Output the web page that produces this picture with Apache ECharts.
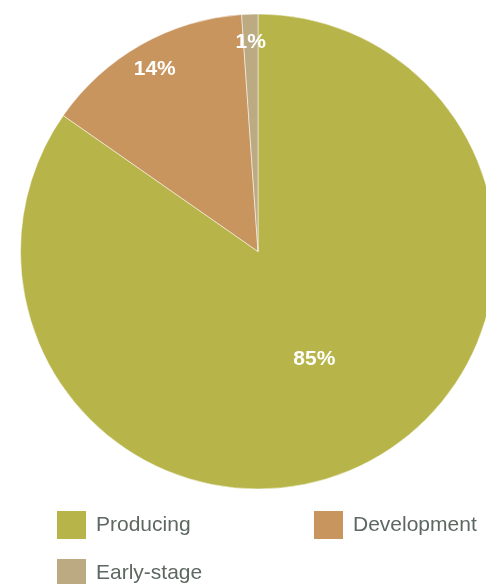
<!DOCTYPE html>
<html>
<head>
<meta charset="utf-8">
<script src="https://cdn.jsdelivr.net/npm/echarts@6/dist/echarts.min.js"></script>
<style>html,body{margin:0;padding:0;background:#fff}#c{width:486px;height:584px}</style>
</head>
<body>
<div id="c"></div>
<script>
const categories = ['Producing', 'Development', 'Early-stage'];
const values = [84.7, 14.2, 1.1];
const colors = ['#b7b54a', '#c8955f', '#bcab82'];
// which slices get their label at mid-radius (inner) vs near the rim (outer)
const innerLabel = ['Producing'];

const FONT = '"Liberation Sans", Arial, sans-serif';
const cx = 258, cy = 251.5, R = 237.5;
const total = values.reduce((a, b) => a + b, 0);
const fmt = p => Math.round(p.value / total * 100) + '%';
const labelStyle = {
  position: 'inside', color: '#fff', fontSize: 21, fontWeight: 'bold',
  fontFamily: FONT, formatter: fmt
};

const data0 = categories.map((c, i) => ({
  name: c, value: values[i], itemStyle: { color: colors[i] },
  label: { show: innerLabel.includes(c) }
}));
const data1 = categories.map((c, i) => ({
  name: c, value: values[i],
  label: { show: !innerLabel.includes(c) }
}));

function legend(name, left, top) {
  return {
    data: [name], left: left, top: top, padding: 0, orient: 'horizontal',
    itemWidth: 31, itemHeight: 30, icon: 'rect', selectedMode: false,
    textStyle: { color: '#5d6862', fontSize: 21, fontFamily: FONT, padding: [0, 0, 0, 4] }
  };
}

const chart = echarts.init(document.getElementById('c'), null, { renderer: 'canvas' });
chart.setOption({
  animation: false,
  legend: [
    legend(categories[0], 55, 509),
    legend(categories[1], 312, 509),
    legend(categories[2], 55, 557)
  ],
  series: [
    {
      type: 'pie', center: [cx, cy], radius: [0, R], startAngle: 90, clockwise: true,
      silent: true, label: labelStyle, labelLine: { show: false },
      itemStyle: { borderColor: '#fff', borderWidth: 0.5 },
      emphasis: { disabled: true },
      data: data0
    },
    {
      type: 'pie', center: [cx, cy], radius: [R - 62, R], startAngle: 90, clockwise: true,
      silent: true, label: labelStyle, labelLine: { show: false },
      itemStyle: { color: 'rgba(0,0,0,0)', borderWidth: 0 },
      emphasis: { disabled: true },
      data: data1
    }
  ]
});
</script>
</body>
</html>
